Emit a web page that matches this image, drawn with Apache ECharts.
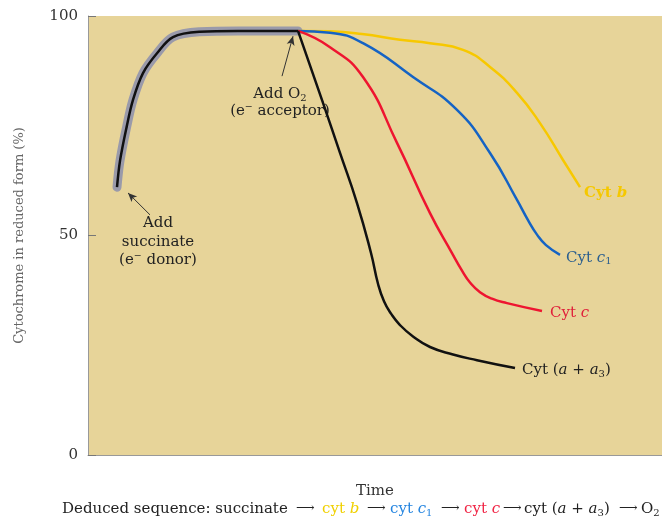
<!DOCTYPE html>
<html><head><meta charset="utf-8">
<script src="https://cdn.jsdelivr.net/npm/echarts@6/dist/echarts.min.js"></script>
<style>html,body{margin:0;padding:0;background:#fff}#c{width:662px;height:528px}</style>
</head><body><div id="c"></div>
<script>
// Time in arbitrary units (0..574); values in % reduced
var succinateCurve = [[29,61],[32,67],[38.7,74.8],[45,80.9],[55,87],[69,91.5],[85,95.2],[112,96.4],[150,96.6],[210,96.6]];
var cytA = [[210,96.6],[235,80.2],[252,68.8],[269,57.4],[283,46],[290,39],[296,35],[303,32.2],[312,29.6],[325,27],[342,24.6],[365,22.9],[389,21.6],[427,19.8]];
var cytC = [[210,96.6],[242,92.9],[275,86.1],[309,71.1],[342,55.1],[364,46],[374,42],[382,39.3],[392,37.1],[404,35.6],[419,34.6],[454,32.8]];
var cytC1 = [[210,96.6],[242,96.2],[275,93.8],[325,86.1],[369,78.6],[402,68.8],[429,58.1],[440,53.5],[449,50.2],[458,47.8],[472,45.6]];
var cytB = [[210,96.6],[242,96.5],[274,95.9],[312,94.6],[342,93.8],[375,92.3],[402,88.4],[429,82.5],[452,75.6],[475,67.2],[492,61.0]];
var yTicks = [0,50,100];
var arrowO2 = [[194,86.3],[205,95.4]];
var arrowSucc = [[62,54.7],[40,59.7]];

var FONT = 'DejaVu Serif';
var FS = 15;
var SM = 0.5;
var chart = echarts.init(document.getElementById('c'));
function endLab(fmt, color, off, extra){
  var w = extra||'normal';
  return {show:true, formatter:fmt, color:color, fontFamily:FONT, fontSize:FS, offset:off,
    rich:{i:{fontStyle:'italic',color:color,fontFamily:FONT,fontSize:FS,fontWeight:w,verticalAlign:'middle'},
          n:{color:color,fontFamily:FONT,fontSize:FS,fontWeight:w,verticalAlign:'middle'},
          s:{color:color,fontFamily:FONT,fontSize:10,fontWeight:w,verticalAlign:'bottom',lineHeight:18}}};
}
function curve(data, color, z, lab){
  var s = {type:'line',data:data,smooth:SM,showSymbol:false,lineStyle:{color:color,width:2.5},z:z};
  if (lab) s.endLabel = lab;
  return s;
}
var option = {
  animation:false,
  grid:{left:88,right:0,top:16,bottom:73,show:true,backgroundColor:'#e7d499',borderWidth:0},
  xAxis:{type:'value',min:0,max:574,name:'Time',nameLocation:'middle',nameGap:29,
    nameTextStyle:{fontFamily:FONT,fontSize:FS,color:'#333'},
    axisLine:{show:true,lineStyle:{color:'#999'}},axisTick:{show:false},axisLabel:{show:false},splitLine:{show:false}},
  yAxis:{type:'value',min:0,max:100,interval:50,name:'Cytochrome in reduced form (%)',nameLocation:'middle',nameGap:62,nameRotate:90,
    nameTextStyle:{fontFamily:FONT,fontSize:13,color:'#666'},
    axisLine:{show:true,lineStyle:{color:'#999'}},axisTick:{show:true,inside:true,length:8,lineStyle:{color:'#777'}},
    axisLabel:{fontFamily:FONT,fontSize:FS,color:'#333',margin:10,formatter:function(v){return yTicks.indexOf(v)>=0?String(v):'';}},
    splitLine:{show:false}},
  series:[
    {type:'line',data:succinateCurve,smooth:0.35,showSymbol:false,lineStyle:{color:'#9a9aaa',width:9,cap:'round'},z:2},
    {type:'line',data:succinateCurve,smooth:0.35,showSymbol:false,lineStyle:{color:'#111',width:2.5},z:5,
      markLine:{silent:true,symbol:['none','arrow'],symbolSize:[6,9],label:{show:false},lineStyle:{color:'#333',width:1,type:'solid'},
        data:[[{coord:arrowO2[0]},{coord:arrowO2[1]}],[{coord:arrowSucc[0]},{coord:arrowSucc[1]}]]}},
    curve(cytB,'#f7c800',3,endLab('{n|Cyt }{i|b}','#f5c800',[-4,6],'bold')),
    curve(cytC1,'#1563c4',3,endLab('{n|Cyt }{i|c}{s|1}','#2b5f8f',[-2,3])),
    curve(cytC,'#ee1530',3,endLab('{n|Cyt }{i|c}','#e0203a',[0,2])),
    curve(cytA,'#111',4,endLab('{n|Cyt (}{i|a}{n| + }{i|a}{s|3}{n|)}','#222',[-1,2]))
  ]
};
chart.setOption(option);
var pO2 = chart.convertToPixel({gridIndex:0},[192,80.3]);
var pS = chart.convertToPixel({gridIndex:0},[70,48.5]);
function st(c,it,fs,va){return {fill:c,fontFamily:FONT,fontSize:fs||FS,fontStyle:it?'italic':'normal',verticalAlign:va||'middle',lineHeight:18};}
var R = {n:st('#222'),a:st('#222',0,13),i:st('#222',1),s:st('#222',0,10,'bottom'),
  y:st('#f0d000'),yi:st('#f0d000',1),b:st('#2585e0'),bi:st('#2585e0',1),bs:st('#2585e0',0,10,'bottom'),
  r:st('#f02545'),ri:st('#f02545',1)};
// bottom sequence segments: [text, left]
var seqParts = [
  ['{n|Deduced sequence: succinate}',62],['{a|⟶}',296],['{y|cyt }{yi|b}',322],['{a|⟶}',367],
  ['{b|cyt }{bi|c}{bs|1}',390],['{a|⟶}',441],['{r|cyt }{ri|c}',464],['{a|⟶}',503],
  ['{n|cyt (}{i|a}{n| + }{i|a}{s|3}{n|)}',524],['{a|⟶}',619],['{n|O}{s|2}',641]
];
var graphics = [
  {type:'text',x:pO2[0],y:pO2[1]-8,style:{text:'{n|Add O}{s|2}',rich:R,align:'center',verticalAlign:'middle',fontFamily:FONT,fontSize:FS}},
  {type:'text',x:pO2[0],y:pO2[1]+9,style:{text:'{n|(e⁻ acceptor)}',rich:R,align:'center',verticalAlign:'middle',fontFamily:FONT,fontSize:FS}},
  {type:'text',x:pS[0],y:pS[1],style:{fontFamily:FONT,fontSize:FS,fill:'#222',text:'Add\nsuccinate\n(e⁻ donor)',align:'center',verticalAlign:'middle',lineHeight:18.5}}
];
seqParts.forEach(function(p){
  graphics.push({type:'text',left:p[1],top:502,style:{text:p[0],rich:R,fontFamily:FONT,fontSize:FS}});
});
chart.setOption({graphic:graphics});
</script></body></html>
